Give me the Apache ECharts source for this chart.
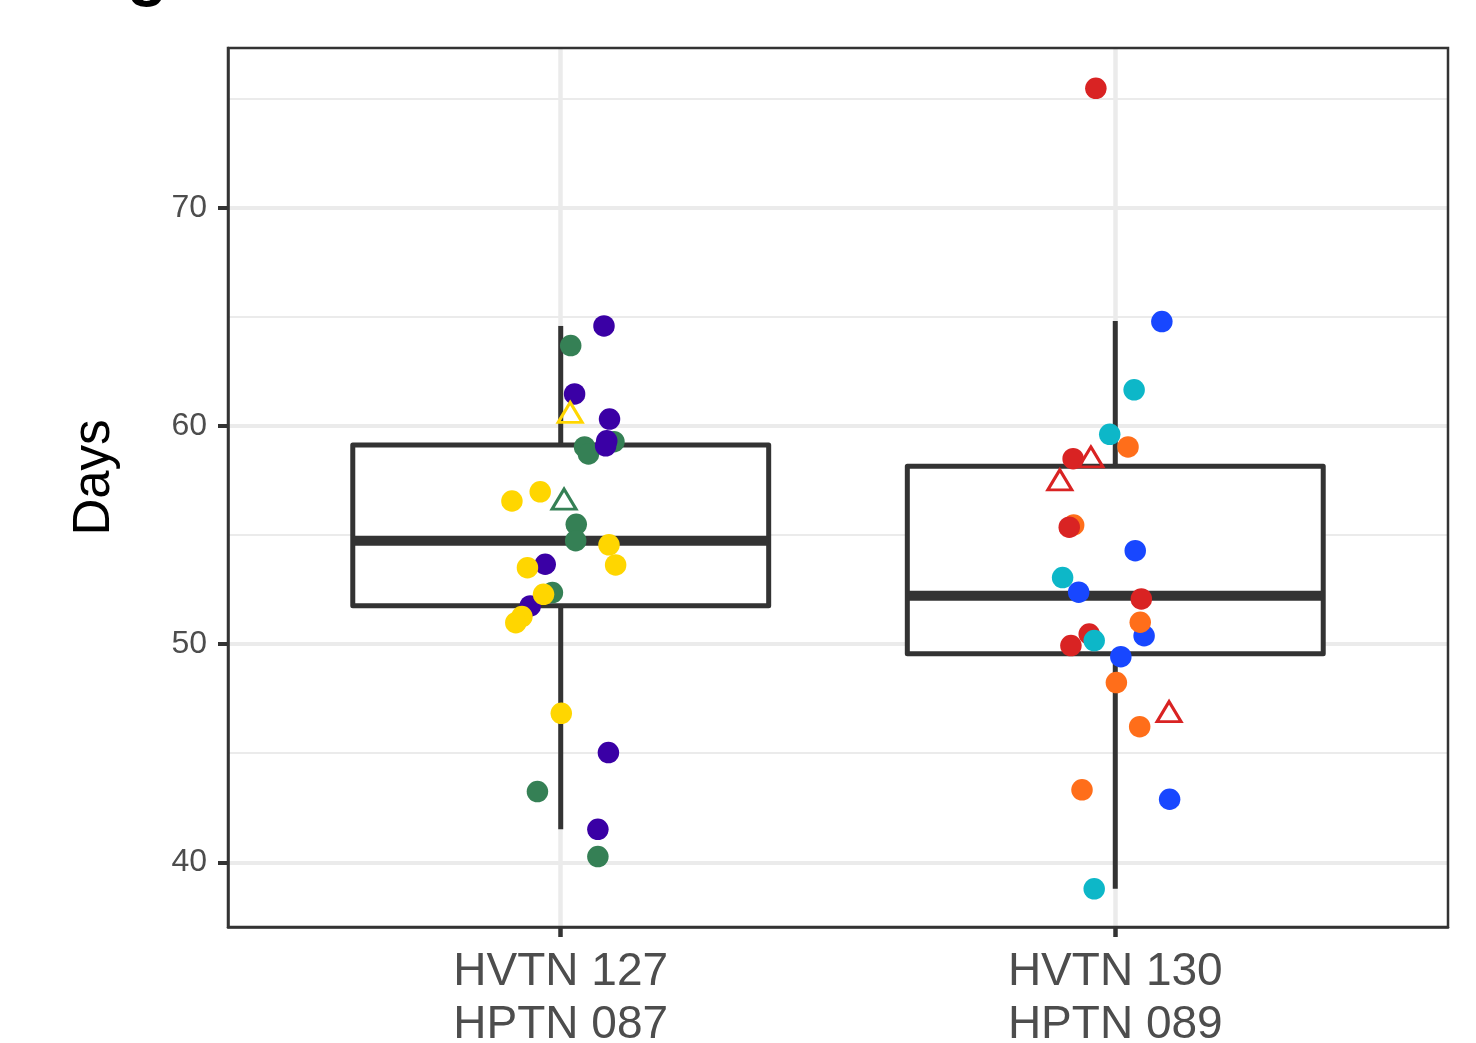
<!DOCTYPE html>
<html><head><meta charset="utf-8">
<script src="https://cdn.jsdelivr.net/npm/echarts@6/dist/echarts.min.js"></script>
<style>html,body{margin:0;padding:0;background:#fff}#c{width:1476px;height:1043px}</style>
</head><body><div id="c"></div>
<script>
// ---- data ----
const categories = ['HVTN 127\nHPTN 087', 'HVTN 130\nHPTN 089'];
const yTicks = [40, 50, 60, 70];
const yMinorTicks = [45, 55, 65, 75];
// [position, lowerWhisker, q1, median, q3, upperWhisker]
const boxStats = [
  [1, 41.51, 51.77, 54.75, 59.14, 64.60],
  [2, 38.78, 49.56, 52.22, 58.16, 64.83]
];
// points: [group position + jitter, days]
const green  = [[1.018,63.70],[1.096,59.29],[1.043,59.05],[1.050,58.73],[1.028,55.50],[1.027,54.75],[0.985,52.37],[0.958,43.24],[1.067,40.26]];
const purple = [[1.078,64.60],[1.025,61.48],[1.088,60.33],[1.083,59.33],[1.081,59.10],[0.972,53.67],[0.945,51.76],[1.086,45.03],[1.067,41.51]];
const yellow = [[0.912,56.57],[0.963,56.99],[1.087,54.56],[1.099,53.64],[0.940,53.51],[0.969,52.29],[0.930,51.27],[0.919,50.99],[1.001,46.83]];
const greenTri  = [[1.006,56.51]];
const yellowTri = [[1.017,60.48]];
const blue   = [[2.084,64.80],[2.036,54.29],[1.934,52.39],[2.052,50.39],[2.010,49.43],[2.098,42.89]];
const orange = [[2.023,59.05],[1.925,55.47],[2.045,51.01],[2.002,48.24],[2.044,46.22],[1.940,43.32]];
const red    = [[1.965,75.50],[1.924,58.51],[1.917,55.37],[2.047,52.08],[1.953,50.47],[1.920,49.94]];
const cyan   = [[2.034,61.67],[1.990,59.63],[1.905,53.06],[1.962,50.17],[1.962,38.78]];
const redTri = [[1.956,58.44],[1.900,57.39],[2.097,46.76]];

// ---- styles ----
const FONT = 'Liberation Sans';
const DARK = '#333333';
const GRID = { left: 228, top: 48, width: 1220, height: 879 };
const YMIN = 37.03, YMAX = 77.35;

function dots(name, data, color) {
  return { name, type: 'scatter', data, symbol: 'circle', symbolSize: 21.5,
    itemStyle: { color, opacity: 1 }, z: 5, silent: true };
}
function tris(name, data, color) {
  return { name, type: 'scatter', data, symbol: 'triangle', symbolSize: [24, 20], symbolOffset: [0, -3.3],
    itemStyle: { color: 'rgba(0,0,0,0)', borderColor: color, borderWidth: 3, opacity: 1 }, z: 6, silent: true };
}

const chart = echarts.init(document.getElementById('c'), null, { renderer: 'canvas' });
chart.setOption({
  animation: false,
  backgroundColor: '#ffffff',
  textStyle: { fontFamily: FONT },
  grid: Object.assign({ show: true, backgroundColor: '#ffffff', borderWidth: 0, outerBoundsMode: 'none', containLabel: false }, GRID),
  graphic: [
    { type: 'rect', z: 100, silent: true,
      shape: { x: GRID.left, y: GRID.top, width: GRID.width, height: GRID.height },
      style: { fill: 'none', stroke: DARK, lineWidth: 2.5 } },
    { type: 'text', z: 100, silent: true, x: 127, y: -25,
      style: { text: 'g', font: 'bold 66px "Liberation Sans"', fill: '#000', verticalAlign: 'middle', align: 'left' } }
  ],
  xAxis: {
    type: 'value', min: 0.4, max: 2.6,
    axisLine: { show: true, onZero: false, lineStyle: { color: DARK, width: 2.5 } },
    axisTick: { show: true, customValues: [1, 2], length: 10, lineStyle: { color: DARK, width: 4.5 } },
    axisLabel: { customValues: [1, 2], formatter: v => categories[Math.round(v) - 1],
      fontSize: 46, lineHeight: 53, color: '#4D4D4D', margin: 19, fontFamily: FONT },
    splitLine: { show: true, lineStyle: { color: '#EBEBEB', width: 4.5 } }
  },
  yAxis: [
    { type: 'value', min: YMIN, max: YMAX,
      axisLine: { show: true, lineStyle: { color: DARK, width: 2.5 } },
      axisTick: { show: true, customValues: yTicks, length: 10, lineStyle: { color: DARK, width: 4 } },
      axisLabel: { customValues: yTicks, fontSize: 32, color: '#4D4D4D', margin: 21, fontFamily: FONT },
      splitLine: { show: true, lineStyle: { color: '#EBEBEB', width: 4 } },
      name: 'Days', nameLocation: 'middle', nameRotate: 90, nameGap: 108,
      nameTextStyle: { fontSize: 51, color: '#000000', fontFamily: FONT, padding: [0, 0, 0, 20] } },
    { type: 'value', min: YMIN, max: YMAX, position: 'left',
      axisLine: { show: false },
      axisTick: { show: false, customValues: yMinorTicks },
      axisLabel: { show: false, customValues: yMinorTicks },
      splitLine: { show: true, lineStyle: { color: '#EBEBEB', width: 2 } } }
  ],
  series: [
    { type: 'custom', name: 'box', data: boxStats, z: 3, silent: true,
      encode: { x: 0, y: [1, 2, 3, 4, 5] },
      renderItem(params, api) {
        const x = api.value(0);
        const lo = api.coord([x, api.value(1)]);
        const q1 = api.coord([x, api.value(2)]);
        const md = api.coord([x, api.value(3)]);
        const q3 = api.coord([x, api.value(4)]);
        const hi = api.coord([x, api.value(5)]);
        const half = api.size([0.375, 0])[0];
        const ls = { stroke: DARK, lineWidth: 5, fill: 'none' };
        return { type: 'group', children: [
          { type: 'line', shape: { x1: hi[0], y1: hi[1], x2: q3[0], y2: q3[1] }, style: ls },
          { type: 'line', shape: { x1: q1[0], y1: q1[1], x2: lo[0], y2: lo[1] }, style: ls },
          { type: 'rect', shape: { x: q3[0] - half, y: q3[1], width: 2 * half, height: q1[1] - q3[1] },
            style: { stroke: DARK, lineWidth: 5, fill: '#ffffff', lineJoin: 'round' } },
          { type: 'line', shape: { x1: md[0] - half, y1: md[1], x2: md[0] + half, y2: md[1] },
            style: { stroke: DARK, lineWidth: 10 } }
        ] };
      } },
    dots('green', green, '#358055'),
    dots('purple', purple, '#3A00A5'),
    dots('yellow', yellow, '#FFD600'),
    tris('greenTri', greenTri, '#358055'),
    tris('yellowTri', yellowTri, '#FFD600'),
    dots('blue', blue, '#1847FF'),
    dots('orange', orange, '#FF6E1A'),
    dots('red', red, '#D92323'),
    dots('cyan', cyan, '#0DB7C8'),
    tris('redTri', redTri, '#D92323')
  ]
});
</script></body></html>
